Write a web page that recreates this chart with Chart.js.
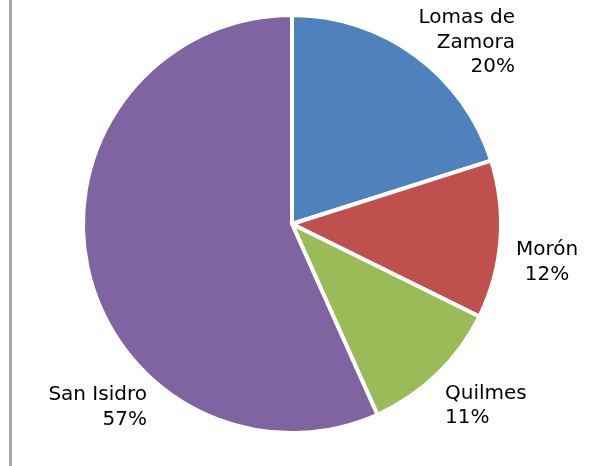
<!DOCTYPE html>
<html>
<head>
<meta charset="utf-8">
<script src="https://cdn.jsdelivr.net/npm/chart.js@4"></script>
<style>
    html, body { margin: 0; padding: 0; background: #fff; }
    #wrap { position: relative; width: 593px; height: 466px; overflow: hidden; }
    #edge { position: absolute; left: 9px; top: 0; width: 3px; height: 466px; background: #a8a8a8; }
    canvas { position: absolute; left: 0; top: 0; }
</style>
</head>
<body>
<div id="wrap">
    <canvas id="pie" width="593" height="466"></canvas>
    <div id="edge"></div>
</div>
<script>
'use strict';

/* ── Data ───────────────────────────────────────────────────────── */
const categories = ['Lomas de Zamora', 'Morón', 'Quilmes', 'San Isidro'];
const labelLines = [['Lomas de', 'Zamora'], ['Morón'], ['Quilmes'], ['San Isidro']];
const shares = [20.1, 12.2, 11.0, 56.7];
const sliceColors = ['#4F81BD', '#C0504D', '#9BBB59', '#8064A2'];

/* ── Label layout: anchor as a fraction of the radius from centre ── */
const labelAnchors = [
    { fx: 1.067, fy: -0.868, align: 'right' },
    { fx: 1.22, fy: 0.184, align: 'center' },
    { fx: 0.732, fy: 0.871, align: 'left' },
    { fx: -0.694, fy: 0.876, align: 'right' }
];

const LINE_H = 24.5;

const pieLabels = {
    id: 'pieLabels',
    afterDatasetsDraw(chart) {
        const ctx = chart.ctx;
        const meta = chart.getDatasetMeta(0);
        const total = shares.reduce((a, b) => a + b, 0);
        ctx.save();
        ctx.font = '20px "DejaVu Sans"';
        ctx.fillStyle = '#000';
        ctx.textBaseline = 'middle';
        meta.data.forEach((arc, i) => {
            const a = labelAnchors[i];
            const r = arc.outerRadius;
            const x = arc.x + a.fx * r;
            const y = arc.y + a.fy * r;
            const lines = labelLines[i].concat([Math.round(shares[i] / total * 100) + '%']);
            const top = y - (lines.length - 1) * LINE_H / 2;
            ctx.textAlign = a.align;
            lines.forEach((t, k) => ctx.fillText(t, x, top + k * LINE_H));
        });
        ctx.restore();
    }
};

new Chart(document.getElementById('pie'), {
    type: 'pie',
    data: {
        labels: categories,
        datasets: [{
            data: shares,
            backgroundColor: sliceColors,
            borderColor: '#ffffff',
            borderWidth: 4
        }]
    },
    options: {
        responsive: false,
        animation: false,
        devicePixelRatio: 1,
        layout: { padding: { top: 13, bottom: 31, left: 0, right: 9 } },
        plugins: {
            legend: { display: false },
            tooltip: { enabled: false }
        }
    },
    plugins: [pieLabels]
});
</script>
</body>
</html>
